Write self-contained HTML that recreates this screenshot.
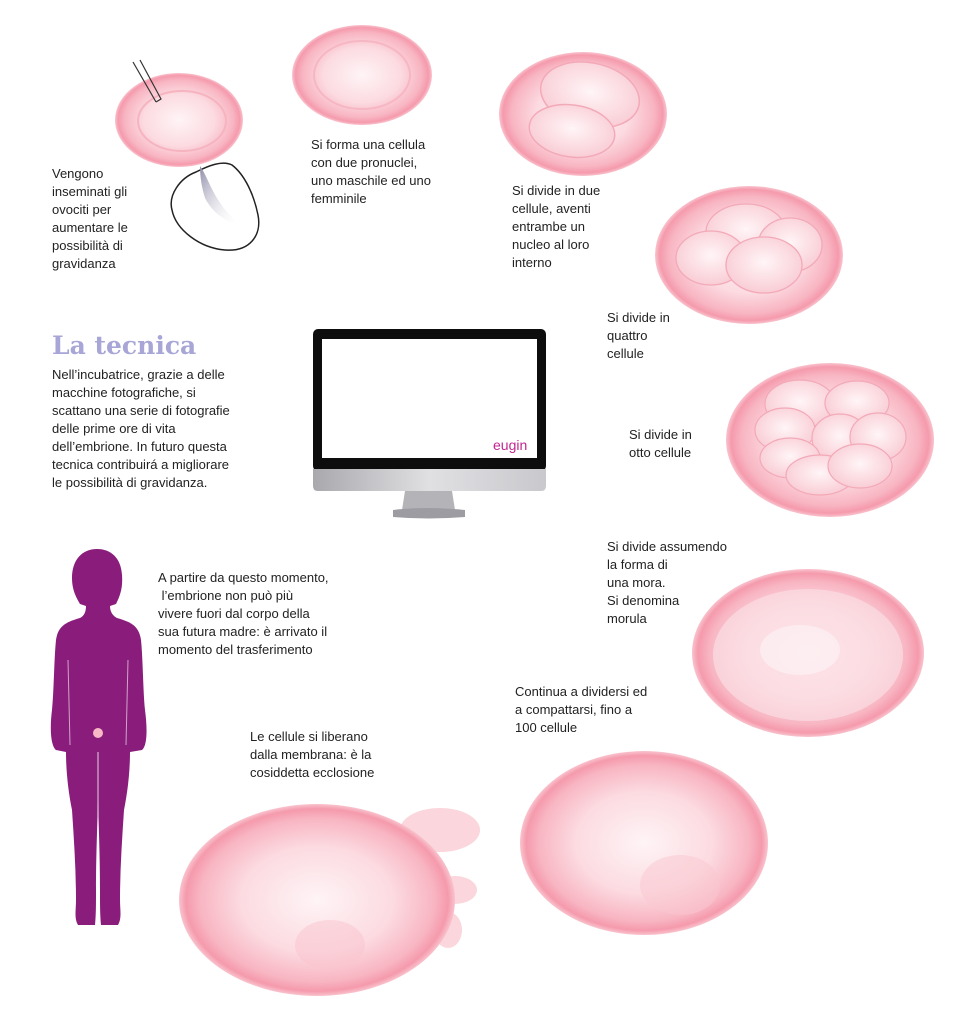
<!DOCTYPE html>
<html><head><meta charset="utf-8"><style>
html,body{margin:0;padding:0;background:#fff}
body{width:967px;height:1024px;position:relative;overflow:hidden;font-family:"Liberation Sans",sans-serif}
.t{position:absolute;font-size:13px;line-height:18px;color:#222;white-space:nowrap}
svg{position:absolute;left:0;top:0}
</style></head><body>
<svg width="967" height="1024" viewBox="0 0 967 1024">
<defs>
<radialGradient id="eg" cx="50%" cy="50%" r="50%">
<stop offset="0" stop-color="#fef4f6"/>
<stop offset="0.55" stop-color="#fcdbe1"/>
<stop offset="0.85" stop-color="#f8b5c2"/>
<stop offset="0.95" stop-color="#f59aad"/>
<stop offset="1" stop-color="#f9c3cd"/>
</radialGradient>
<radialGradient id="cl" cx="50%" cy="45%" r="55%">
<stop offset="0" stop-color="#fff5f7"/>
<stop offset="1" stop-color="#f9cdd5"/>
</radialGradient>
<linearGradient id="chin" x1="0" x2="1"><stop offset="0" stop-color="#a9a9ad"/><stop offset="0.5" stop-color="#e0e0e3"/><stop offset="1" stop-color="#c9c9cd"/></linearGradient>
<linearGradient id="fun" x1="0" x2="1" y1="0" y2="1"><stop offset="0" stop-color="#8e8ca8"/><stop offset="1" stop-color="#fff" stop-opacity="0"/></linearGradient>
</defs>
<!-- egg 1 holding pipette -->
<path d="M196 172 C180 178 168 195 172 210 C176 230 200 248 225 250 C250 252 262 235 258 215 C254 195 245 175 232 165 C222 160 208 166 196 172 Z" fill="#fff" stroke="#222" stroke-width="1.5"/>
<path d="M200 166 C210 180 212 200 240 225 C225 222 212 212 205 198 C202 188 200 178 200 166 Z" fill="url(#fun)"/>
<ellipse cx="179" cy="120" rx="64" ry="47" fill="url(#eg)"/>
<ellipse cx="182" cy="121" rx="44" ry="30" fill="none" stroke="#f6b3c0" stroke-width="2"/>
<path d="M133 62 L156 102 M140 60 L161 99 L156 102" stroke="#333" stroke-width="1.2" fill="none"/>
<!-- egg 2 -->
<ellipse cx="362" cy="75" rx="70" ry="50" fill="url(#eg)"/>
<ellipse cx="362" cy="75" rx="48" ry="34" fill="none" stroke="#f6b7c3" stroke-width="2"/>
<!-- egg 3 -->
<ellipse cx="583" cy="114" rx="84" ry="62" fill="url(#eg)"/>
<ellipse cx="590" cy="95" rx="50" ry="32" transform="rotate(12 590 95)" fill="url(#cl)" stroke="#f3a9b8" stroke-width="1.5"/>
<ellipse cx="572" cy="131" rx="43" ry="26" transform="rotate(8 572 131)" fill="url(#cl)" stroke="#f3a9b8" stroke-width="1.5"/>
<!-- egg 4 -->
<ellipse cx="749" cy="255" rx="94" ry="69" fill="url(#eg)"/>
<ellipse cx="746" cy="232" rx="40" ry="28" fill="url(#cl)" stroke="#f3a9b8" stroke-width="1.3"/>
<ellipse cx="790" cy="245" rx="32" ry="27" fill="url(#cl)" stroke="#f3a9b8" stroke-width="1.3"/>
<ellipse cx="711" cy="258" rx="35" ry="27" fill="url(#cl)" stroke="#f3a9b8" stroke-width="1.3"/>
<ellipse cx="764" cy="265" rx="38" ry="28" fill="url(#cl)" stroke="#f3a9b8" stroke-width="1.3"/>
<!-- egg 5 -->
<ellipse cx="830" cy="440" rx="104" ry="77" fill="url(#eg)"/>
<ellipse cx="800" cy="404" rx="35" ry="24" fill="url(#cl)" stroke="#f3a9b8" stroke-width="1.2"/>
<ellipse cx="857" cy="403" rx="32" ry="22" fill="url(#cl)" stroke="#f3a9b8" stroke-width="1.2"/>
<ellipse cx="785" cy="430" rx="30" ry="22" fill="url(#cl)" stroke="#f3a9b8" stroke-width="1.2"/>
<ellipse cx="840" cy="438" rx="28" ry="24" fill="url(#cl)" stroke="#f3a9b8" stroke-width="1.2"/>
<ellipse cx="878" cy="437" rx="28" ry="24" fill="url(#cl)" stroke="#f3a9b8" stroke-width="1.2"/>
<ellipse cx="790" cy="458" rx="30" ry="20" fill="url(#cl)" stroke="#f3a9b8" stroke-width="1.2"/>
<ellipse cx="820" cy="475" rx="34" ry="20" fill="url(#cl)" stroke="#f3a9b8" stroke-width="1.2"/>
<ellipse cx="860" cy="466" rx="32" ry="22" fill="url(#cl)" stroke="#f3a9b8" stroke-width="1.2"/>
<!-- egg 6 morula -->
<ellipse cx="808" cy="653" rx="116" ry="84" fill="url(#eg)"/>
<ellipse cx="808" cy="655" rx="95" ry="66" fill="#fbdde2" opacity="0.7"/>
<ellipse cx="800" cy="650" rx="40" ry="25" fill="#fff" opacity="0.4"/>
<!-- egg 7 -->
<ellipse cx="644" cy="843" rx="124" ry="92" fill="url(#eg)"/>
<ellipse cx="680" cy="885" rx="40" ry="30" fill="#f9c7d0" opacity="0.5"/>
<!-- egg 8 hatching -->
<ellipse cx="440" cy="830" rx="40" ry="22" fill="#fbd6dc"/>
<ellipse cx="455" cy="890" rx="22" ry="14" fill="#fbd6dc"/>
<ellipse cx="448" cy="930" rx="14" ry="18" fill="#fbd6dc"/>
<ellipse cx="317" cy="900" rx="138" ry="96" fill="url(#eg)"/>
<ellipse cx="330" cy="945" rx="35" ry="25" fill="#f9c3cd" opacity="0.5"/>
<!-- woman -->
<path fill="#8a1c7c" d="M97 549 C82 549 72 560 72 578 C72 592 78 600 80 604 L86 606 C86 612 84 616 80 618 C66 622 58 626 56 640 C54 660 54 690 52 710 C50 725 50 745 56 750 L66 752 C66 770 68 790 72 810 C74 840 76 870 76 900 C76 910 74 918 78 925 L95 925 C96 915 96 905 96 890 C96 860 97 835 98 800 C99 835 100 860 100 890 C100 905 100 915 101 925 L118 925 C122 918 120 910 120 900 C120 870 122 840 124 810 C128 790 130 770 130 752 L142 750 C148 745 147 725 145 710 C143 690 143 660 141 640 C139 626 131 622 117 618 C113 616 110 612 110 606 L116 604 C120 596 123 588 122 575 C121 558 111 549 97 549 Z"/>
<path d="M68 660 L70 745 M128 660 L126 745" stroke="#fff" stroke-width="1" opacity="0.6"/>
<path d="M98 752 L98 900" stroke="#fff" stroke-width="1" opacity="0.8"/>
<ellipse cx="98" cy="733" rx="5" ry="5" fill="#f7b9c6"/>
<!-- monitor -->
<rect x="313" y="329" width="233" height="142" rx="5" fill="#0d0d0d"/>
<rect x="322" y="339" width="215" height="119" fill="#fff"/>
<path d="M313 469 L546 469 L546 486 Q546 491 541 491 L318 491 Q313 491 313 486 Z" fill="url(#chin)"/>
<path d="M405 491 L452 491 L455 510 L402 510 Z" fill="#b3b3b8"/>
<path d="M393 510 Q425 506 465 510 L465 517 Q428 520 393 517 Z" fill="#9c9ca2"/>
<text x="493" y="450" font-family="Liberation Sans,sans-serif" font-size="14" fill="#c2268f">eugin</text>
<text x="52" y="354" font-family="DejaVu Serif,serif" font-weight="bold" font-size="25" fill="#a8a6d6">La tecnica</text>
</svg>
<div class="t" style="left:52px;top:165px">Vengono<br>inseminati gli<br>ovociti per<br>aumentare le<br>possibilità di<br>gravidanza</div>
<div class="t" style="left:311px;top:136px">Si forma una cellula<br>con due pronuclei,<br>uno maschile ed uno<br>femminile</div>
<div class="t" style="left:512px;top:182px">Si divide in due<br>cellule, aventi<br>entrambe un<br>nucleo al loro<br>interno</div>
<div class="t" style="left:607px;top:309px">Si divide in<br>quattro<br>cellule</div>
<div class="t" style="left:629px;top:426px">Si divide in<br>otto cellule</div>
<div class="t" style="left:607px;top:538px">Si divide assumendo<br>la forma di<br>una mora.<br>Si denomina<br>morula</div>
<div class="t" style="left:515px;top:683px">Continua a dividersi ed<br>a compattarsi, fino a<br>100 cellule</div>
<div class="t" style="left:158px;top:569px">A partire da questo momento,<br>&nbsp;l’embrione non può più<br>vivere fuori dal corpo della<br>sua futura madre: è arrivato il<br>momento del trasferimento</div>
<div class="t" style="left:250px;top:728px">Le cellule si liberano<br>dalla membrana: è la<br>cosiddetta ecclosione</div>
<div class="t" style="left:52px;top:366px">Nell’incubatrice, grazie a delle<br>macchine fotografiche, si<br>scattano una serie di fotografie<br>delle prime ore di vita<br>dell’embrione. In futuro questa<br>tecnica contribuirá a migliorare<br>le possibilità di gravidanza.</div>
</body></html>
